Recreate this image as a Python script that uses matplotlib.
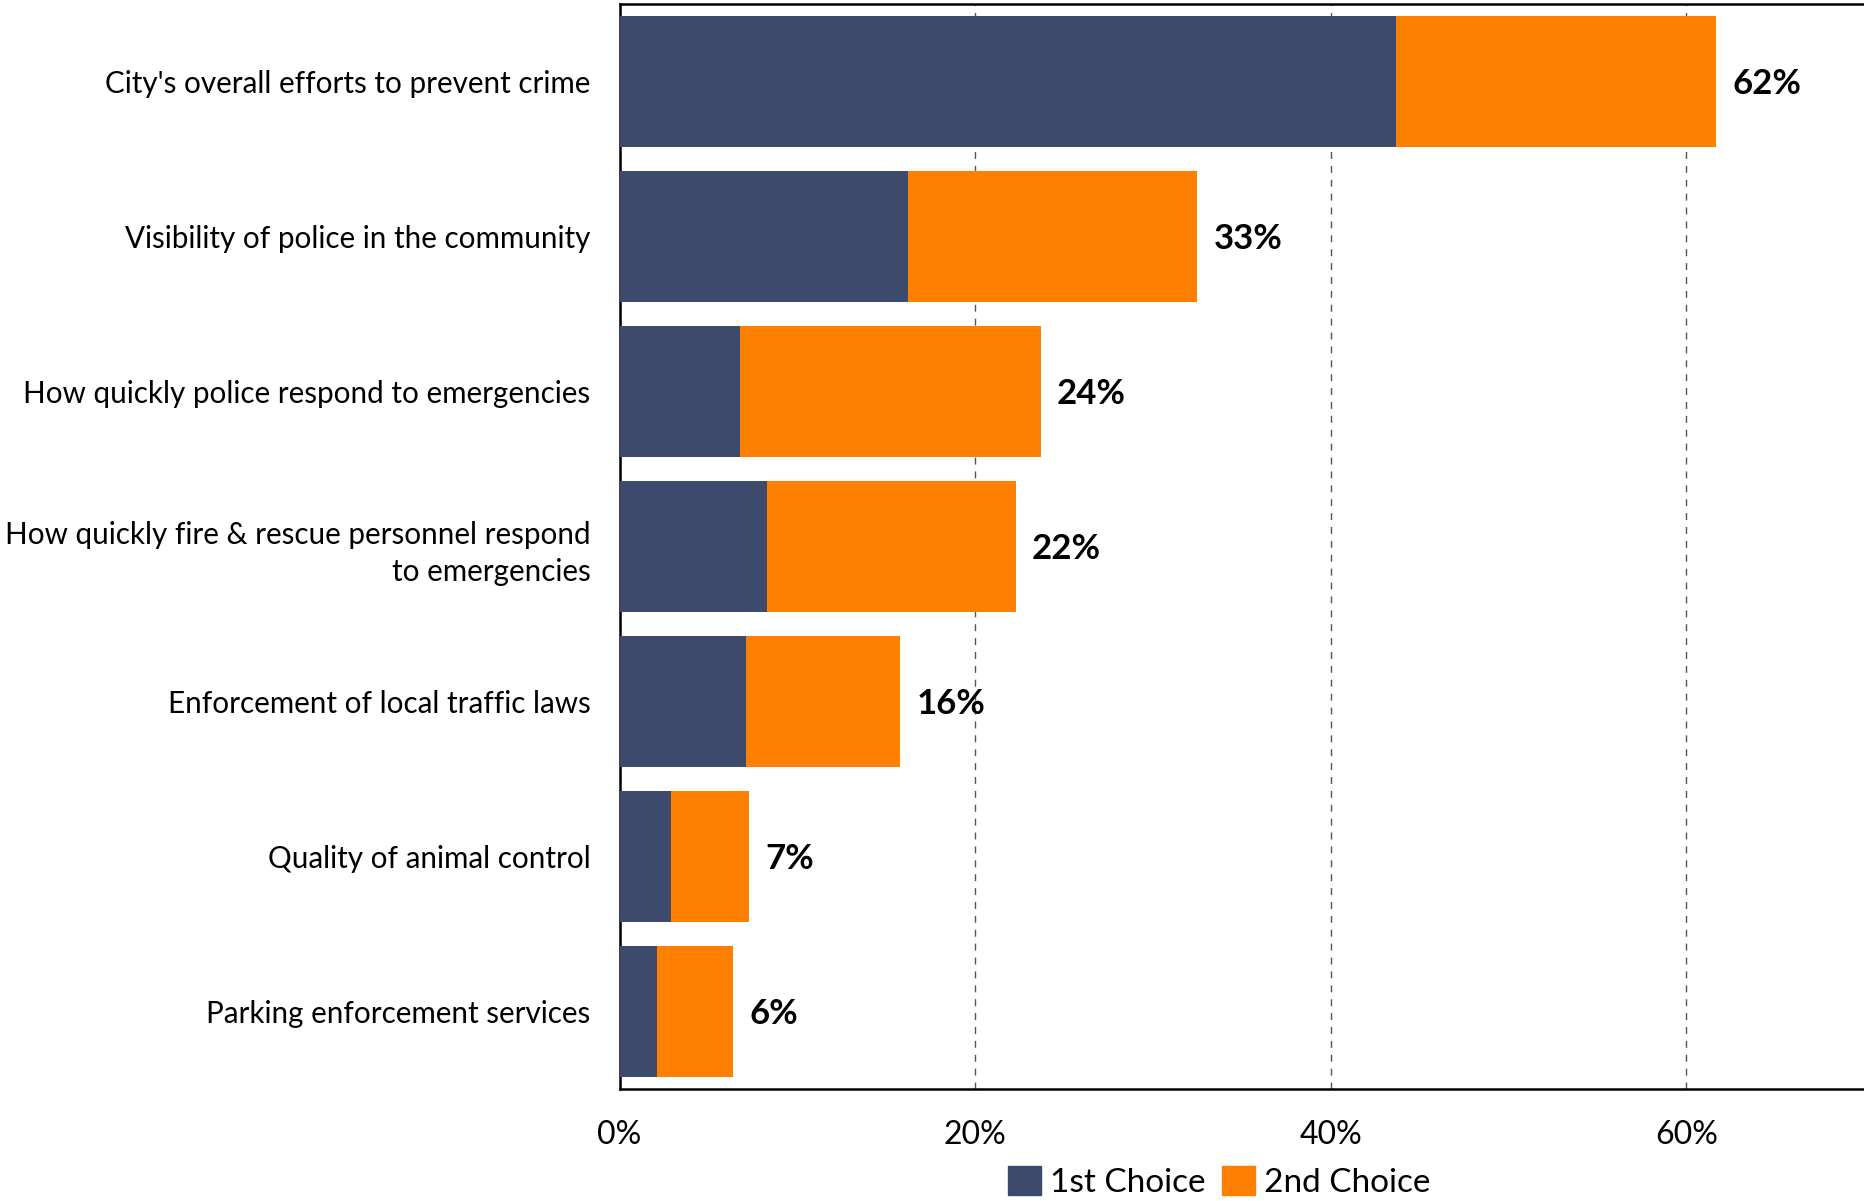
import matplotlib
matplotlib.use("Agg")
import matplotlib.pyplot as plt
from matplotlib.patches import Patch

categories = [
    "City's overall efforts to prevent crime",
    "Visibility of police in the community",
    "How quickly police respond to emergencies",
    "How quickly fire & rescue personnel respond\nto emergencies",
    "Enforcement of local traffic laws",
    "Quality of animal control",
    "Parking enforcement services",
]
first_choice = [43.7, 16.2, 6.8, 8.3, 7.1, 2.9, 2.1]
second_choice = [18.0, 16.3, 16.9, 14.0, 8.7, 4.4, 4.3]
total_labels = ["62%", "33%", "24%", "22%", "16%", "7%", "6%"]
xticks = [0, 20, 40, 60]
xtick_labels = ["0%", "20%", "40%", "60%"]
series_names = ["1st Choice", "2nd Choice"]

dark = "#3D4A6B"
orange = "#FF7F00"

plt.rcParams['font.family'] = ['Lato', 'DejaVu Sans']

fig = plt.figure(figsize=(18.64, 12.01), dpi=100)
ax = fig.add_axes([0.3324, 0.0933, 0.6676, 0.9034])

y = list(range(len(categories)))
ax.barh(y, first_choice, height=0.85, color=dark, zorder=3)
ax.barh(y, second_choice, left=first_choice, height=0.85, color=orange, zorder=3)

for i in y:
    tot = first_choice[i] + second_choice[i]
    ax.text(tot + 0.9, i, total_labels[i], va='center_baseline', ha='left',
            fontsize=25, fontweight='bold', color='black')

ax.set_xlim(0, 70)
ax.set_ylim(6.5, -0.5)
ax.set_yticks(y)
ax.set_yticklabels(categories, fontsize=21.3, ha='right', linespacing=1.4)
ax.tick_params(axis='y', length=0, pad=21)
ax.set_xticks(xticks)
ax.set_xticklabels(xtick_labels, fontsize=23)
ax.tick_params(axis='x', length=0, pad=22)

ax.grid(axis='x', linestyle=(0, (5, 5)), color='#555555', linewidth=1.0, zorder=0)
for s in ['left', 'top', 'bottom']:
    ax.spines[s].set_linewidth(1.8)
    ax.spines[s].set_color('black')
ax.spines['right'].set_visible(False)

handles = [Patch(color=dark), Patch(color=orange)]
fig.legend(handles, series_names, loc='center', bbox_to_anchor=(0.654, 0.016),
           ncol=2, frameon=False, fontsize=24, handlelength=1.0, handleheight=1.0,
           handletextpad=0.25, columnspacing=0.5, borderpad=0.2)

fig.savefig("out.png", dpi=100)
